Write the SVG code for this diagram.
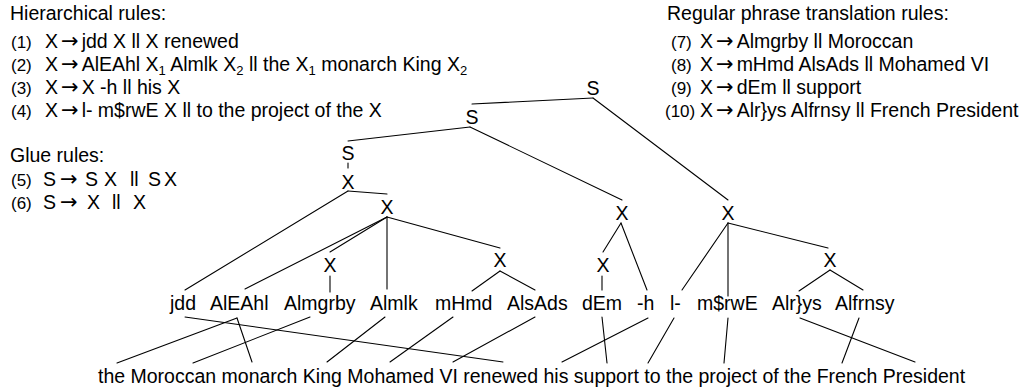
<svg xmlns="http://www.w3.org/2000/svg" width="1034" height="391" viewBox="0 0 1034 391">
<style>
text { font-family: "Liberation Sans", Arial, Helvetica, sans-serif; font-size: 19.5px; fill: #000; }
.ar { font-family: "DejaVu Sans", sans-serif; font-size: 21px; }
.lb { font-size: 17px; }
.sub { font-size: 13px; }
.n { text-anchor: middle; }
.e { stroke: #000; stroke-width: 1.1; fill: none; stroke-linecap: round; }
</style>
<rect width="1034" height="391" fill="#fff"/>

<g id="rules-hierarchical">
  <text x="10" y="20">Hierarchical rules:</text>
  <text class="lb" x="11" y="48">(1)</text>
  <text x="45" y="48">X<tspan class="ar" dx="3">→</tspan><tspan dx="3">jdd X ll X renewed</tspan></text>
  <text class="lb" x="11" y="71">(2)</text>
  <text x="45" y="71">X<tspan class="ar" dx="3">→</tspan><tspan dx="3">AlEAhl X</tspan><tspan class="sub" dy="4">1</tspan><tspan dy="-4"> Almlk X</tspan><tspan class="sub" dy="4">2</tspan><tspan dy="-4"> ll the X</tspan><tspan class="sub" dy="4">1</tspan><tspan dy="-4"> monarch King X</tspan><tspan class="sub" dy="4">2</tspan></text>
  <text class="lb" x="11" y="94">(3)</text>
  <text x="45" y="94">X<tspan class="ar" dx="3">→</tspan><tspan dx="3">X -h ll his X</tspan></text>
  <text class="lb" x="11" y="117">(4)</text>
  <text x="45" y="117">X<tspan class="ar" dx="3">→</tspan><tspan dx="3">l- m$rwE X ll to the project of the X</tspan></text>
</g>

<g id="rules-glue">
  <text x="10" y="162">Glue rules:</text>
  <text class="lb" x="11" y="186">(5)</text>
  <text y="186"><tspan x="43">S</tspan><tspan x="60" class="ar">→</tspan><tspan x="85">S</tspan><tspan x="104">X</tspan><tspan x="130">ll</tspan><tspan x="148">S</tspan><tspan x="164">X</tspan></text>
  <text class="lb" x="11" y="209">(6)</text>
  <text y="209"><tspan x="43">S</tspan><tspan x="60" class="ar">→</tspan><tspan x="87">X</tspan><tspan x="112">ll</tspan><tspan x="133">X</tspan></text>
</g>

<g id="rules-phrase">
  <text x="667" y="20">Regular phrase translation rules:</text>
  <text class="lb" x="671" y="48">(7)</text>
  <text x="700" y="48">X<tspan class="ar" dx="3">→</tspan><tspan dx="3">Almgrby ll Moroccan</tspan></text>
  <text class="lb" x="671" y="71">(8)</text>
  <text x="700" y="71">X<tspan class="ar" dx="3">→</tspan><tspan dx="3">mHmd AlsAds ll Mohamed VI</tspan></text>
  <text class="lb" x="671" y="94">(9)</text>
  <text x="700" y="94">X<tspan class="ar" dx="3">→</tspan><tspan dx="3">dEm ll support</tspan></text>
  <text class="lb" x="665" y="117">(10)</text>
  <text x="700" y="117">X<tspan class="ar" dx="3">→</tspan><tspan dx="3">Alr}ys Alfrnsy ll French President</tspan></text>
</g>

<g id="connectors">
  <line class="e" x1="593" y1="98" x2="472" y2="104"/>
  <line class="e" x1="593" y1="98" x2="728" y2="200"/>
  <line class="e" x1="470" y1="127" x2="348" y2="141"/>
  <line class="e" x1="470" y1="127" x2="622" y2="200"/>
  <line class="e" x1="348" y1="163" x2="348" y2="168"/>
  <line class="e" x1="348" y1="191" x2="387" y2="194"/>
  <line class="e" x1="348" y1="191" x2="185" y2="290"/>
  <line class="e" x1="387" y1="217" x2="245" y2="289"/>
  <line class="e" x1="387" y1="217" x2="330" y2="252"/>
  <line class="e" x1="387" y1="217" x2="387" y2="289"/>
  <line class="e" x1="387" y1="217" x2="500" y2="248"/>
  <line class="e" x1="330" y1="276" x2="330" y2="292"/>
  <line class="e" x1="500" y1="271" x2="472" y2="291"/>
  <line class="e" x1="500" y1="271" x2="535" y2="290"/>
  <line class="e" x1="621" y1="223" x2="603" y2="252"/>
  <line class="e" x1="621" y1="223" x2="647" y2="290"/>
  <line class="e" x1="602" y1="276" x2="602" y2="290"/>
  <line class="e" x1="728" y1="223" x2="682" y2="290"/>
  <line class="e" x1="728" y1="223" x2="728" y2="296"/>
  <line class="e" x1="728" y1="223" x2="828" y2="248"/>
  <line class="e" x1="830" y1="270" x2="799" y2="291"/>
  <line class="e" x1="830" y1="270" x2="863" y2="290"/>
  <line class="e" x1="185" y1="317" x2="503" y2="362"/>
  <line class="e" x1="237" y1="318" x2="117" y2="363"/>
  <line class="e" x1="237" y1="318" x2="252" y2="362"/>
  <line class="e" x1="310" y1="317" x2="193" y2="363"/>
  <line class="e" x1="385" y1="317" x2="327" y2="362"/>
  <line class="e" x1="453" y1="317" x2="390" y2="362"/>
  <line class="e" x1="535" y1="317" x2="453" y2="362"/>
  <line class="e" x1="602" y1="317" x2="607" y2="363"/>
  <line class="e" x1="648" y1="318" x2="562" y2="362"/>
  <line class="e" x1="674" y1="318" x2="648" y2="363"/>
  <line class="e" x1="728" y1="318" x2="724" y2="363"/>
  <line class="e" x1="800" y1="318" x2="915" y2="362"/>
  <line class="e" x1="859" y1="318" x2="842" y2="363"/>
</g>

<g id="node-S-root"><text class="n" x="593" y="95">S</text></g>
<g id="node-S-2"><text class="n" x="472" y="124">S</text></g>
<g id="node-S-3"><text class="n" x="348" y="160">S</text></g>
<g id="node-X-glue"><text class="n" x="348" y="189">X</text></g>
<g id="node-X-r2"><text class="n" x="387" y="214">X</text></g>
<g id="node-X-r7"><text class="n" x="330" y="272">X</text></g>
<g id="node-X-r8"><text class="n" x="500" y="267">X</text></g>
<g id="node-X-r3"><text class="n" x="622" y="220">X</text></g>
<g id="node-X-r9"><text class="n" x="603" y="272">X</text></g>
<g id="node-X-r4"><text class="n" x="728" y="220">X</text></g>
<g id="node-X-r10"><text class="n" x="830" y="267">X</text></g>

<g id="word-jdd"><text x="170" y="310">jdd</text></g>
<g id="word-AlEAhl"><text x="210" y="310">AlEAhl</text></g>
<g id="word-Almgrby"><text x="284" y="310">Almgrby</text></g>
<g id="word-Almlk"><text x="370" y="310">Almlk</text></g>
<g id="word-mHmd"><text x="435" y="310">mHmd</text></g>
<g id="word-AlsAds"><text x="507" y="310">AlsAds</text></g>
<g id="word-dEm"><text x="582" y="310">dEm</text></g>
<g id="word-h"><text x="637" y="310">-h</text></g>
<g id="word-l"><text x="670" y="310">l-</text></g>
<g id="word-mSrwE"><text x="697" y="310">m$rwE</text></g>
<g id="word-Alrys"><text x="772" y="310">Alr}ys</text></g>
<g id="word-Alfrnsy"><text x="835" y="310">Alfrnsy</text></g>

<g id="sentence"><text x="98" y="383">the Moroccan monarch King Mohamed VI renewed his support to the project of the French President</text></g>
</svg>
